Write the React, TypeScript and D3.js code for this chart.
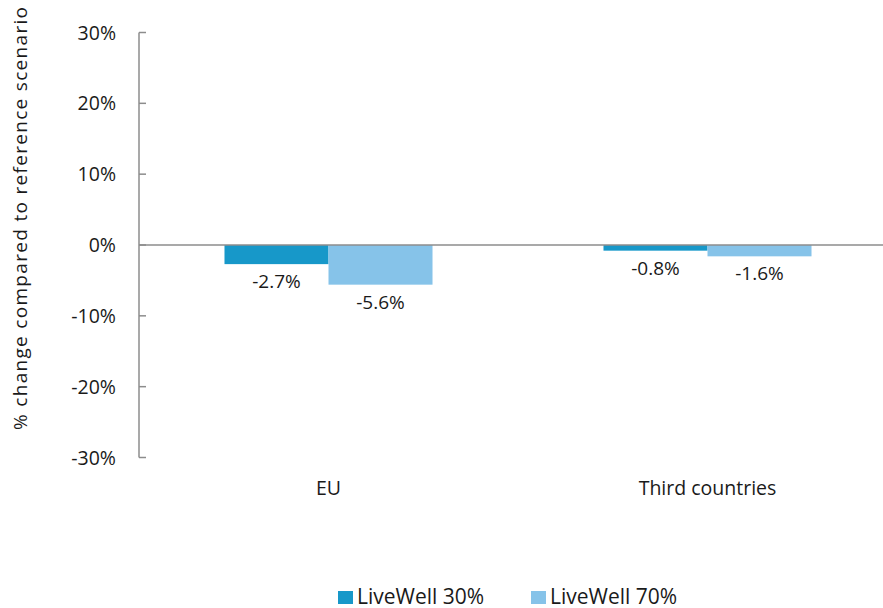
import React from "react";
import * as d3 from "d3";

const categories = ["EU", "Third countries"];
const seriesNames = ["LiveWell 30%", "LiveWell 70%"];
const liveWell30 = [-2.7, -0.8];
const liveWell70 = [-5.6, -1.6];
const yTicks = [30, 20, 10, 0, -10, -20, -30];
const colors = ["#1798c9", "#86c3e9"];

const W = 883;
const H = 608;
const FONT = "'Open Sans', 'Noto Sans', sans-serif";

export default function App() {
  const x0 = 139;
  const x = d3.scaleBand<string>().domain(categories).range([x0, x0 + 758]).paddingInner(0).paddingOuter(0);
  const y = d3.scaleLinear().domain([-30, 30]).range([457.5, 32.5]);
  const inner = d3.scaleBand<string>().domain(seriesNames).range([0, x.bandwidth()]).paddingInner(0).paddingOuter(0.822);
  const series = [liveWell30, liveWell70];
  const axisColor = "#8c8c8c";
  const textColor = "#1a1a1a";

  return (
    <svg width={W} height={H} style={{ position: "absolute", left: 0, top: 0, background: "#fff" }} fontFamily={FONT}>
      {categories.map((c, ci) =>
        series.map((s, si) => {
          const v = s[ci];
          const bx = (x(c) as number) + (inner(seriesNames[si]) as number);
          const y0 = y(0);
          const y1 = y(v);
          return (
            <g key={c + si}>
              <rect x={bx} y={Math.min(y0, y1)} width={inner.bandwidth()} height={Math.abs(y1 - y0)} fill={colors[si]} />
              <text x={bx + inner.bandwidth() / 2} y={Math.max(y0, y1) + 24} textAnchor="middle" fontSize={19} fill={textColor}>
                {v.toFixed(1) + "%"}
              </text>
            </g>
          );
        })
      )}
      <line x1={x0} x2={x0} y1={y(30)} y2={y(-30)} stroke={axisColor} strokeWidth={1.5} />
      {yTicks.map((t) => (
        <g key={t}>
          <line x1={x0} x2={x0 + 7} y1={y(t)} y2={y(t)} stroke={axisColor} strokeWidth={1.5} />
          <text x={116} y={y(t)} dy="0.36em" textAnchor="end" fontSize={19.5} fill={textColor}>
            {t + "%"}
          </text>
        </g>
      ))}
      <line x1={x0} x2={W} y1={y(0)} y2={y(0)} stroke={axisColor} strokeWidth={1.5} />
      {categories.map((c) => (
        <text key={c} x={(x(c) as number) + x.bandwidth() / 2} y={495} textAnchor="middle" fontSize={19.5} fill={textColor}>
          {c}
        </text>
      ))}
      <text
        transform={`translate(27, 218.5) rotate(-90)`}
        textAnchor="middle"
        fontSize={19}
        fill={textColor}
        textLength={423}
        lengthAdjust="spacing"
      >
        % change compared to reference scenario
      </text>
      {seriesNames.map((n, i) => {
        const lx = [338, 531][i];
        return (
          <g key={n}>
            <rect x={lx} y={591} width={15} height={13} fill={colors[i]} />
            <text x={lx + 19} y={604} fontSize={21} fill={textColor}>
              {n}
            </text>
          </g>
        );
      })}
    </svg>
  );
}
